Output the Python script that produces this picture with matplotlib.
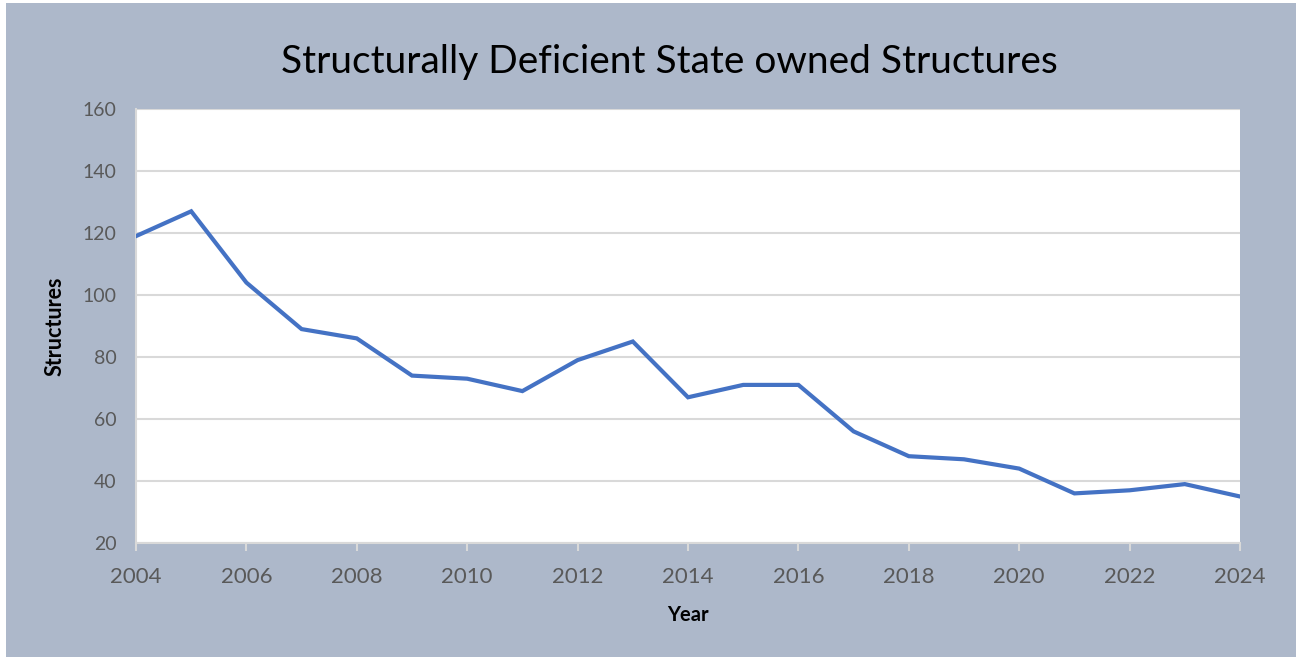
import matplotlib
matplotlib.use("Agg")
import matplotlib.pyplot as plt
from matplotlib.patches import Rectangle

years = list(range(2004, 2025))
structures = [119, 127, 104, 89, 86, 74, 73, 69, 79, 85, 67, 71, 71, 56, 48, 47, 44, 36, 37, 39, 35]
xticks = list(range(2004, 2025, 2))
yticks = list(range(20, 161, 20))

W, H = 1296, 657
fig = plt.figure(figsize=(W / 100, H / 100), dpi=100, facecolor="white")
bg = "#ADB8CA"
fig.patches.append(Rectangle((6 / W, 0), 1 - 6 / W, 1 - 3 / H, transform=fig.transFigure,
                             facecolor=bg, edgecolor="none", zorder=-10))

left, right, top, bottom = 136, 1240, 109, 543
ax = fig.add_axes([left / W, 1 - bottom / H, (right - left) / W, (bottom - top) / H])
ax.set_facecolor("white")
ax.plot(years, structures, color="#4472C4", linewidth=3.0, solid_joinstyle="miter", zorder=3)

ax.set_xlim(2004, 2024)
ax.set_ylim(20, 160)
ax.set_xticks(xticks)
ax.set_yticks(yticks)
ax.grid(axis="y", color="#D9D9D9", linewidth=1.5)
ax.set_axisbelow(True)
for s in ["top", "right"]:
    ax.spines[s].set_visible(False)
ax.spines["left"].set_color("#D9D9D9")
ax.spines["left"].set_linewidth(1.5)
ax.spines["bottom"].set_color("#D9D9D9")
ax.spines["bottom"].set_linewidth(1.5)
ax.tick_params(axis="y", length=0, pad=14, labelcolor="#595959")
ax.tick_params(axis="x", length=6, width=1.5, color="#D9D9D9", pad=11, labelcolor="#595959")
ax.set_yticklabels([str(y) for y in yticks], fontfamily="Lato", fontsize=14)
ax.set_xticklabels([str(x) for x in xticks], fontfamily="Lato", fontsize=16)

ax.set_xlabel("Year", fontfamily="Lato", fontsize=14.5, fontweight="bold", color="black", labelpad=13)
ax.set_ylabel("Structures", fontfamily="Lato", fontsize=15.5, fontweight="bold", color="black", labelpad=12)

fig.text(0.5 * (282 + 1056) / W, 1 - 62 / H, "Structurally Deficient State owned Structures",
         ha="center", va="center", fontsize=28, fontfamily="Lato", color="black")

fig.savefig("out.png", dpi=100, facecolor=fig.get_facecolor())
